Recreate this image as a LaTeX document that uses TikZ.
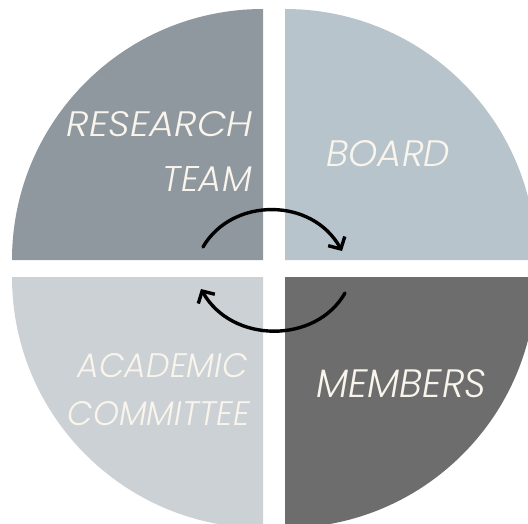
\documentclass[tikz,border=0pt]{standalone}
\usepackage{fontspec}
\usepackage{graphicx}
\newfontfamily\labfont{Poppins Light Italic}
\usetikzlibrary{arrows.meta}
\definecolor{qtl}{HTML}{8F989F}
\definecolor{qtr}{HTML}{B7C4CB}
\definecolor{qbl}{HTML}{CBD1D5}
\definecolor{qbr}{HTML}{6D6D6D}
\definecolor{labc}{HTML}{FAF5EC}
\newcommand{\fitlab}[3]{\resizebox{#1pt}{#2pt}{#3}}
\tikzset{
  lab/.style={text=labc, font=\labfont\fontsize{36}{44}\selectfont, inner sep=0pt},
  cyc/.style={line width=3.4pt, black, line cap=round, -{Straight Barb[length=9pt,width=19pt,line width=3.4pt]}}
}
\begin{document}
\begin{tikzpicture}[x=1pt,y=-1pt]
\useasboundingbox (0,0) rectangle (528,524);
\begin{scope}
\clip (0,0) rectangle (528,524);
\fill[qtl] (263,260) -- (12,260) arc[start angle=180,end angle=270,radius=251] -- cycle;
\fill[qtr] (285,260) -- (285,9) arc[start angle=270,end angle=360,radius=251] -- cycle;
\fill[qbr] (285,277) -- (536,277) arc[start angle=0,end angle=90,radius=251] -- cycle;
\fill[qbl] (263,277) -- (263,528) arc[start angle=90,end angle=180,radius=251] -- cycle;
\end{scope}
\node[lab, anchor=base east] (research) at (253,137) {\fitlab{186}{25}{RESEARCH}};
\node[lab, anchor=base east] (team) at (252,192) {\fitlab{89}{25}{TEAM}};
\node[lab, anchor=base west] (board) at (326,167) {\fitlab{124}{26}{BOARD}};
\node[lab, anchor=base east] (academic) at (248,377) {\fitlab{170}{24}{ACADEMIC}};
\node[lab, anchor=base east] (committee) at (250,425) {\fitlab{182}{24}{COMMITTEE}};
\node[lab, anchor=base west] (members) at (316,397) {\fitlab{170}{28}{MEMBERS}};
\coordinate (a1) at (203,247);
\coordinate (a2) at (342,251);
\coordinate (b1) at (345,293);
\coordinate (b2) at (201,289);
\draw[cyc] (a1) .. controls (232,197) and (312,197) .. (a2);
\draw[cyc] (b1) .. controls (316,344) and (232,344) .. (b2);
\end{tikzpicture}
\end{document}
